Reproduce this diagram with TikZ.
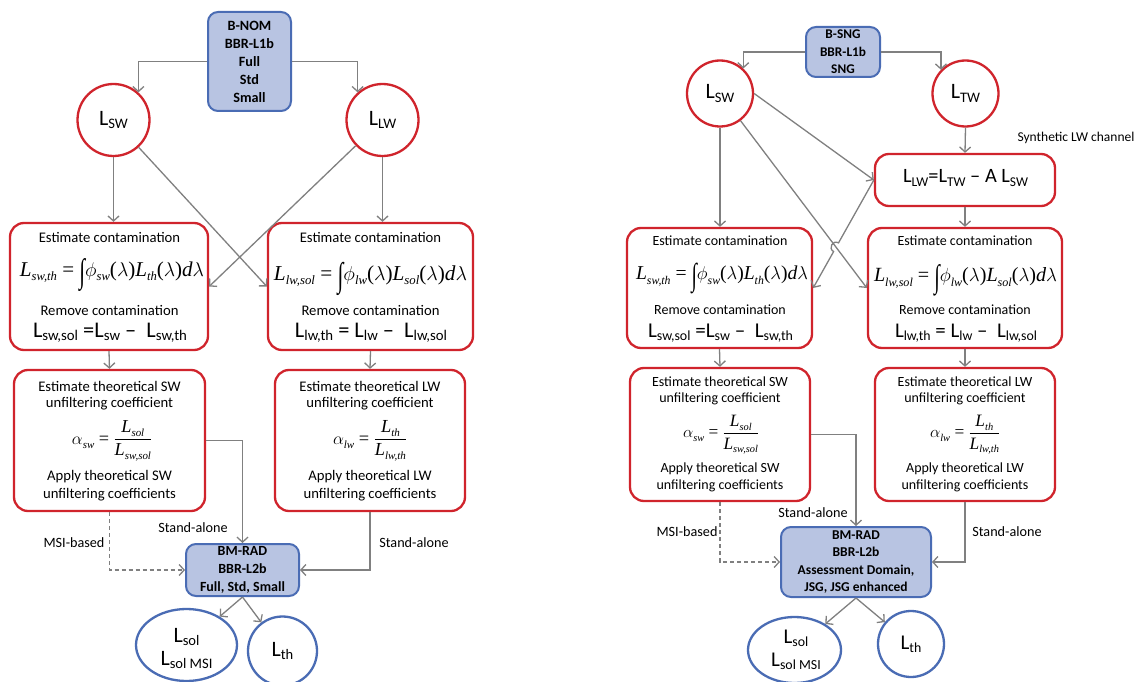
\documentclass[tikz,border=0pt]{standalone}
\usepackage{exscale}
\usepackage{fontspec}
\setmainfont{Carlito}
\newfontfamily\tms{Liberation Serif}
\usepackage{graphicx}
\usetikzlibrary{arrows.meta,calc,intersections,shapes.geometric}
\definecolor{myred}{RGB}{208,36,44}
\definecolor{myblue}{RGB}{74,108,180}
\definecolor{myfill}{RGB}{184,196,226}
\definecolor{mygray}{RGB}{128,128,128}
\newcommand\sbs[1]{\raisebox{-0.15em}{\scalebox{0.66}{#1}}}
\newcommand\mi[1]{{\tms\itshape #1}}
\newcommand\msb[1]{\raisebox{-0.22em}{\scalebox{0.6}{\tms\itshape #1}}}
\newcommand\bint{\raisebox{-0.3em}[0.7em][0.12em]{\scalebox{1}[1.6]{\tms ∫}}}
\newcommand\intf[4]{\mi{L}\msb{#1}{\tms\ = }\bint$\phi$\msb{#2}{\tms(}$\lambda${\tms)}\mi{L}\msb{#3}{\tms(}$\lambda${\tms)}\mi{d}$\lambda$}
\newcommand\fracf[4]{$\alpha$\msb{#1}{\tms\ = }$\displaystyle\frac{\hbox{\mi{L}\msb{#2}}}{\hbox{\mi{L}\msb{#3}}}$}
\tikzset{
  redbox/.style={draw=myred, line width=2.3pt, rounded corners=14pt, fill=white, inner sep=0pt},
  bluebox/.style={draw=myblue, fill=myfill, line width=2pt, rounded corners=10pt, inner sep=0pt, align=center, font=\bfseries\fontsize{14.2}{18}\selectfont},
  redcirc/.style={circle, draw=myred, line width=2.3pt, inner sep=0pt, fill=white, font=\fontsize{22}{24}\selectfont},
  bluecirc/.style={ellipse, draw=myblue, line width=2.3pt, inner sep=0pt, fill=white, align=center, font=\fontsize{22}{22}\selectfont},
  txt/.style={inner sep=0pt, font=\fontsize{14.67}{18}\selectfont},
  rtxt/.style={inner sep=0pt, font=\fontsize{14}{17}\selectfont},
  big/.style={inner sep=0pt, font=\fontsize{19}{22}\selectfont},
  eq/.style={inner sep=0pt, font=\fontsize{22}{24}\selectfont},
  lbl/.style={inner sep=0pt, font=\fontsize{14.2}{17}\selectfont},
  conn/.style={draw=mygray, line width=1.3pt, -{Straight Barb[length=5pt,width=11pt]}},
  dconn/.style={conn, dash pattern=on 4pt off 3pt}
}
\begin{document}
\begin{tikzpicture}[x=1pt,y=-1pt]
\useasboundingbox (0,0) rectangle (1144,682);
\fill[white] (0,0) rectangle (1144,682);

% ================= LEFT DIAGRAM =================
\node[bluebox, minimum width=83pt, minimum height=99pt] (BNOM) at (249.5,61.5) {B-NOM\\BBR-L1b\\Full\\Std\\Small};
\node[redcirc, minimum size=72pt] (LSW) at (113.5,120) {L\sbs{SW}};
\node[redcirc, minimum size=72pt] (LLW) at (382.5,120) {L\sbs{LW}};

\node[redbox, minimum width=198pt, minimum height=127pt] (SWc) at (109,286.5) {};
\node[redbox, minimum width=205pt, minimum height=127pt] (LWc) at (370.5,286.5) {};
\node[redbox, minimum width=191pt, minimum height=141pt] (SWk) at (109.5,440.5) {};
\node[redbox, minimum width=190pt, minimum height=141pt] (LWk) at (370,440.5) {};

\node[txt] (SWc1) at (109.5,237) {Estimate contamination};
\node[eq] (SWc2) at (112,272) {\resizebox{184pt}{!}{\intf{sw,th}{sw}{th}{}}};
\node[txt] (SWc3) at (109.5,310) {Remove contamination};
\node[big] (SWc4) at (110,333) {\resizebox{154pt}{!}{L\sbs{sw,sol} =L\sbs{sw} –\ \ L\sbs{sw,th}}};

\node[txt] (LWc1) at (370.5,237) {Estimate contamination};
\node[eq] (LWc2) at (370.5,276) {\resizebox{193pt}{!}{\intf{lw,sol}{lw}{sol}{}}};
\node[txt] (LWc3) at (370.5,310) {Remove contamination};
\node[big] (LWc4) at (371,333) {\resizebox{152pt}{!}{L\sbs{lw,th} = L\sbs{lw} –\ \ L\sbs{lw,sol}}};

\node[txt] (SWk1) at (109.5,386) {Estimate theoretical SW};
\node[txt] (SWk2) at (109.5,404) {unfiltering coefficient};
\node[eq] (SWk3) at (112,441) {\resizebox{80pt}{!}{\fracf{sw}{sol}{sw,sol}{}}};
\node[txt] (SWk4) at (109.5,477) {Apply theoretical SW};
\node[txt] (SWk5) at (109.5,495) {unfiltering coefficients};

\node[txt] (LWk1) at (370,386) {Estimate theoretical LW};
\node[txt] (LWk2) at (370,404) {unfiltering coefficient};
\node[eq] (LWk3) at (370,441) {\resizebox{74pt}{!}{\fracf{lw}{th}{lw,th}{}}};
\node[txt] (LWk4) at (370,477) {Apply theoretical LW};
\node[txt] (LWk5) at (370,495) {unfiltering coefficients};

\node[bluebox, minimum width=113pt, minimum height=52pt, font=\bfseries\fontsize{14}{17.7}\selectfont] (BM) at (242.5,570) {BM-RAD\\BBR-L2b\\Full, Std, Small};
\node[bluecirc, minimum width=101pt, minimum height=72pt] (Lsol) at (186.5,645) {};
\node[inner sep=0pt, font=\fontsize{22}{22}\selectfont] (Lsol1) at (186.5,637) {L\sbs{sol}};
\node[inner sep=0pt, font=\fontsize{22}{22}\selectfont] (Lsol2) at (186.5,660) {L\sbs{sol MSI}};
\node[bluecirc, circle, minimum size=69pt] (Lth) at (282.5,651) {L\sbs{th}};

\node[lbl] (sa1) at (193,528) {Stand-alone};
\node[lbl] (msi1) at (74,543) {MSI-based};
\node[lbl] (sa2) at (414,543) {Stand-alone};

\draw[conn] (BNOM.west) -| (LSW.48);
\draw[conn] (BNOM.east) -| (LLW.132);
\draw[conn] (LSW.south) -- (LSW.south |- SWc.north);
\draw[conn] (LLW.south) -- (LLW.south |- LWc.north);
\draw[conn] (LSW) -- (LWc.west);
\draw[conn] (LLW) -- (SWc.east);
\draw[conn] (SWc.south) -- (SWk.north);
\draw[conn] (LWc.south) -- (LWk.north);
\draw[conn] (SWk.east) -| (BM.north);
\draw[dconn] (SWk.south) |- (BM.west);
\draw[conn] (LWk.south) |- (BM.east);
\draw[conn] (BM.south) -- (Lsol);
\draw[conn] (BM.south) -- (Lth);

% ================= RIGHT DIAGRAM =================
\node[bluebox, minimum width=74pt, minimum height=50pt, font=\bfseries\fontsize{13.3}{17.5}\selectfont] (BSNG) at (843,52) {B-SNG\\BBR-L1b\\SNG};
\node[redcirc, minimum size=66pt] (RSW) at (720,93.5) {L\sbs{SW}};
\node[redcirc, minimum size=66pt] (RTW) at (965.5,93.5) {L\sbs{TW}};
\node[inner sep=0pt, font=\fontsize{13.5}{15}\selectfont] (syn) at (1076,138) {Synthetic LW channel};
\node[redbox, minimum width=180pt, minimum height=52pt] (RLLW) at (965,180) {};
\node[big, font=\fontsize{20}{22}\selectfont] (RLLWt) at (965.5,178) {\resizebox{125pt}{!}{L\sbs{LW}=L\sbs{TW} – A L\sbs{SW}}};

\node[redbox, minimum width=185pt, minimum height=120pt] (RSWc) at (719.5,288) {};
\node[redbox, minimum width=194pt, minimum height=120pt] (RLWc) at (965,288) {};
\node[redbox, minimum width=180pt, minimum height=133pt] (RSWk) at (720,434.5) {};
\node[redbox, minimum width=180pt, minimum height=133pt] (RLWk) at (965,434.5) {};

\node[rtxt] (RSWc1) at (720,241) {Estimate contamination};
\node[eq] (RSWc2) at (722,276) {\resizebox{172pt}{!}{\intf{sw,th}{sw}{th}{}}};
\node[rtxt] (RSWc3) at (720,310) {Remove contamination};
\node[big] (RSWc4) at (720.5,333) {\resizebox{145pt}{!}{L\sbs{sw,sol} =L\sbs{sw} –\ \ L\sbs{sw,th}}};

\node[rtxt] (RLWc1) at (965,241) {Estimate contamination};
\node[eq] (RLWc2) at (965.5,278) {\resizebox{183pt}{!}{\intf{lw,sol}{lw}{sol}{}}};
\node[rtxt] (RLWc3) at (965,310) {Remove contamination};
\node[big] (RLWc4) at (966,333) {\resizebox{142pt}{!}{L\sbs{lw,th} = L\sbs{lw} –\ \ L\sbs{lw,sol}}};

\node[rtxt] (RSWk1) at (720,382) {Estimate theoretical SW};
\node[rtxt] (RSWk2) at (720,399) {unfiltering coefficient};
\node[eq] (RSWk3) at (721,435) {\resizebox{76pt}{!}{\fracf{sw}{sol}{sw,sol}{}}};
\node[rtxt] (RSWk4) at (720,469) {Apply theoretical SW};
\node[rtxt] (RSWk5) at (720,486) {unfiltering coefficients};

\node[rtxt] (RLWk1) at (965,382) {Estimate theoretical LW};
\node[rtxt] (RLWk2) at (965,399) {unfiltering coefficient};
\node[eq] (RLWk3) at (965,435) {\resizebox{70pt}{!}{\fracf{lw}{th}{lw,th}{}}};
\node[rtxt] (RLWk4) at (965,469) {Apply theoretical LW};
\node[rtxt] (RLWk5) at (965,486) {unfiltering coefficients};

\node[bluebox, minimum width=150pt, minimum height=70pt, font=\bfseries\fontsize{13.5}{17.5}\selectfont] (RBM) at (856,562) {BM-RAD\\BBR-L2b\\Assessment Domain,\\JSG, JSG enhanced};
\node[bluecirc, minimum width=93pt, minimum height=66pt] (RLsol) at (794.5,650) {};
\node[inner sep=0pt, font=\fontsize{21}{21}\selectfont] (RLsol1) at (796,638) {L\sbs{sol}};
\node[inner sep=0pt, font=\fontsize{21}{21}\selectfont] (RLsol2) at (796,661) {L\sbs{sol MSI}};
\node[bluecirc, circle, minimum size=66pt, font=\fontsize{21}{21}\selectfont] (RLth) at (911,644) {L\sbs{th}};

\node[lbl] (rsa1) at (813,513) {Stand-alone};
\node[lbl] (rmsi) at (687,532) {MSI-based};
\node[lbl] (rsa2) at (1007,532) {Stand-alone};

\draw[conn] (BSNG.west) -| (RSW.47);
\draw[conn] (BSNG.east) -| (RTW.136);
\draw[conn] (RSW.south) -- (RSW.south |- RSWc.north);
\draw[conn] (RTW.south) -- (RLLW.north);
\draw[conn] (RSW.east) -- (RLLW.west);
\draw[conn, name path=pA] (RSW) -- (RLWc.west);
\path[name path=pB] (RLLW.west) -- (RSWc.east);
\path[name intersections={of=pA and pB, by=X}];
\draw[conn] (RLLW.west) -- ($(X)!5pt!(RLLW.west)$) to[bend right=90, looseness=1.7] ($(X)!5pt!(RSWc.east)$) -- (RSWc.east);
\draw[conn] (RLLW.south) -- (RLWc.north);
\draw[conn] (RSWc.south) -- (RSWk.north);
\draw[conn] (RLWc.south) -- (RLWk.north);
\draw[conn] (RSWk.east) -| (RBM.north);
\draw[dconn] (RSWk.south) |- (RBM.west);
\draw[conn] (RLWk.south) |- (RBM.east);
\draw[conn] (RBM.south) -- (RLsol);
\draw[conn] (RBM.south) -- (RLth);
\end{tikzpicture}
\end{document}
